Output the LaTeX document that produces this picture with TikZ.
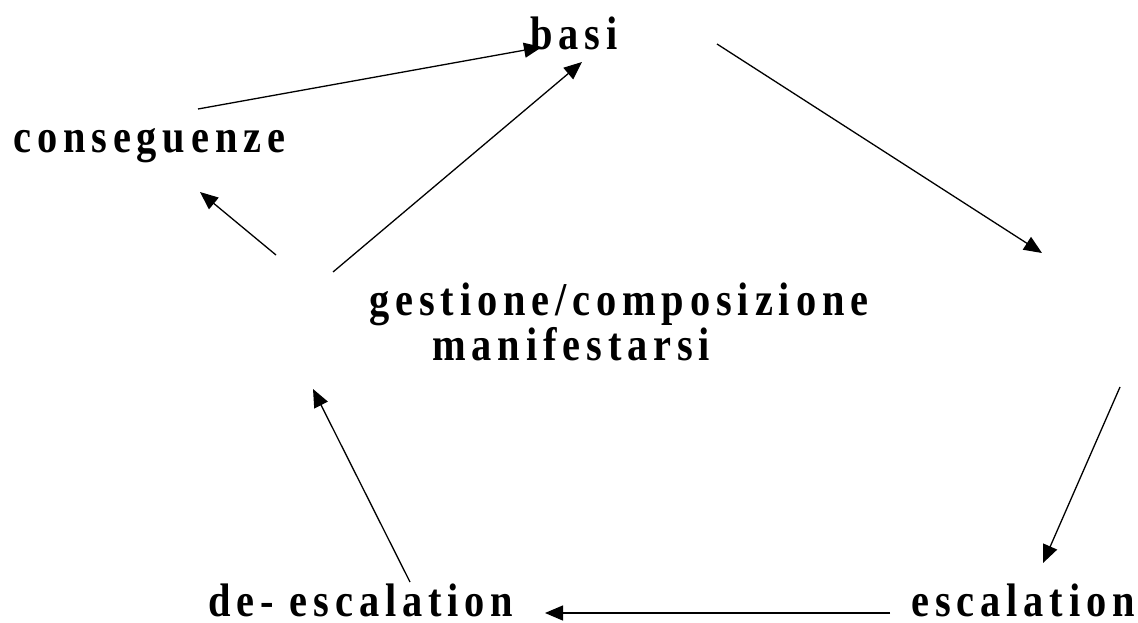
\documentclass[tikz,border=0pt]{standalone}
\usepackage{fontspec}
\setmainfont{Liberation Serif}[FakeStretch=0.86,LetterSpace=12.5]
\usetikzlibrary{%
  arrows.meta,%
  calc%
}

\begin{document}
\begin{tikzpicture}[x=1pt,y=-1pt,
    label/.style={inner sep=0pt,anchor=base west,
      font=\fontsize{47}{52}\selectfont\bfseries},
    arr/.style={line width=1.3pt,-{Triangle[length=18pt,width=15pt]}}]
  \useasboundingbox (0,0) rectangle (1138,623);

  \node[label] (basi)  at (530, 50) {basi};
  \node[label] (cons)  at ( 13,153) {conseguenze};
  \node[label] (gest)  at (369,315) {gestione/composizione};
  \node[label] (manif) at (432,360) {manifestarsi};
  \node[label] (desc)  at (208,616) {de- escalation};
  \node[label] (esc)   at (911,616) {escalation};
  \coordinate (gap) at (1081,320);

  \draw[arr] ($(cons.base west)+(185,-44)$) -- ($(basi.base west)+(12,-3)$);
  \draw[arr] ($(gest.base west)+(-36,-43)$) -- ($(basi.base west)+(52,12)$);
  \draw[arr] ($(gest.base west)+(-93,-60)$) -- ($(cons.base west)+(187,39)$);
  \draw[arr] ($(basi.base west)+(187,-6)$)  -- ($(gap)+(-39,-67)$);
  \draw[arr] ($(gap)+(39,67)$)              -- ($(esc.base west)+(132,-53)$);
  \draw[arr] ($(esc.base west)+(-21,-3)$)   -- ($(desc.base west)+(337,-3)$);
  \draw[arr] ($(desc.base west)+(202,-34)$) -- ($(gest.base west)+(-56,74)$);

\end{tikzpicture}
\end{document}
